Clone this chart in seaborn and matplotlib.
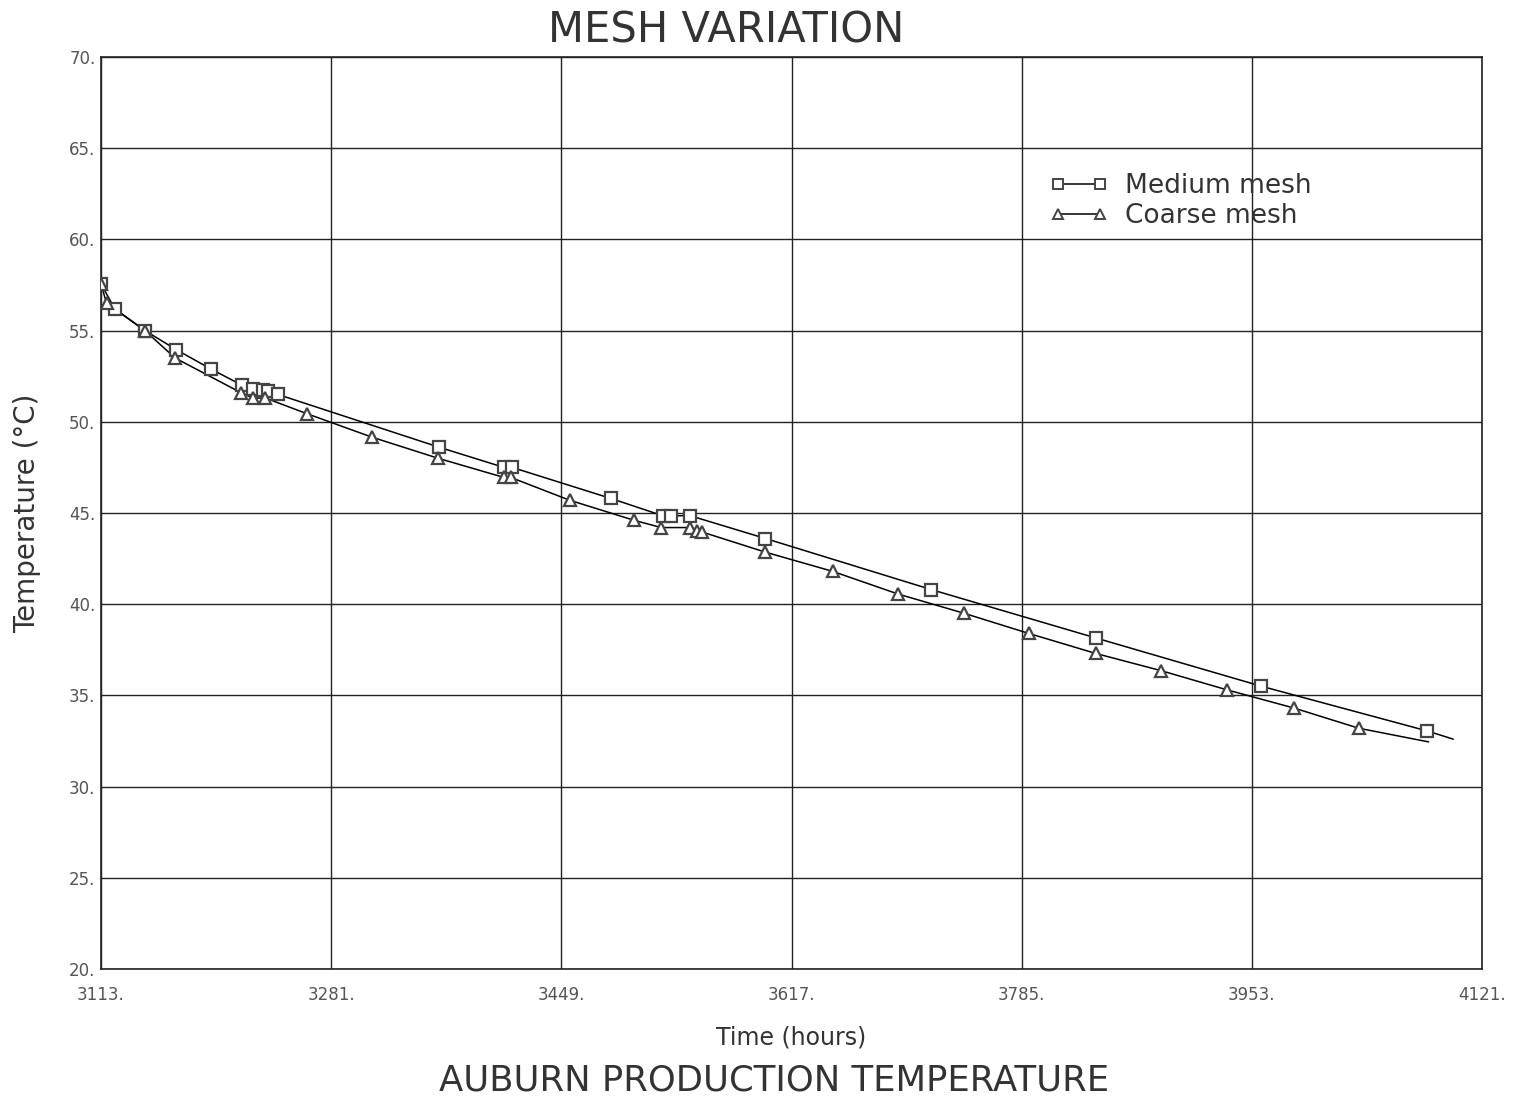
import matplotlib
matplotlib.use("Agg")
import matplotlib.pyplot as plt
from matplotlib.lines import Line2D
import seaborn as sns
import pandas as pd

# ---- data ----
medium_x = [3113, 3123, 3145, 3168, 3193, 3216, 3224, 3231, 3235, 3242, 3360, 3407, 3413,
            3485, 3523, 3529, 3543, 3598, 3719, 3839, 3960, 4081]
medium_y = [57.55, 56.2, 55.0, 53.95, 52.9, 52.0, 51.8, 51.75, 51.7, 51.5, 48.6, 47.5, 47.5,
            45.8, 44.85, 44.85, 44.85, 43.6, 40.8, 38.15, 35.5, 33.05]
medium_tail_x = [4100]
medium_tail_y = [32.6]

coarse_x = [3113, 3117, 3145, 3167, 3215, 3224, 3233, 3263, 3311, 3359, 3407, 3412, 3455,
            3502, 3522, 3543, 3548, 3552, 3598, 3647, 3695, 3743, 3790, 3839, 3887, 3935,
            3984, 4031]
coarse_y = [57.55, 56.5, 55.0, 53.5, 51.6, 51.3, 51.3, 50.45, 49.15, 48.0, 46.95, 46.95, 45.7,
            44.6, 44.2, 44.2, 44.0, 43.95, 42.85, 41.8, 40.55, 39.5, 38.4, 37.3, 36.35, 35.3,
            34.3, 33.2]
coarse_tail_x = [4082]
coarse_tail_y = [32.45]

series_names = ["Medium mesh", "Coarse mesh"]
x_ticks = [3113, 3281, 3449, 3617, 3785, 3953, 4121]
y_ticks = [20, 25, 30, 35, 40, 45, 50, 55, 60, 65, 70]

# ---- build tables ----
pts = pd.DataFrame({
    "time": medium_x + coarse_x,
    "temp": medium_y + coarse_y,
    "mesh": [series_names[0]] * len(medium_x) + [series_names[1]] * len(coarse_x),
})
lines = pd.DataFrame({
    "time": medium_x + medium_tail_x + coarse_x + coarse_tail_x,
    "temp": medium_y + medium_tail_y + coarse_y + coarse_tail_y,
    "mesh": [series_names[0]] * (len(medium_x) + 1) + [series_names[1]] * (len(coarse_x) + 1),
})

sns.set_theme(style="white")
plt.rcParams["font.family"] = ["DejaVu Sans"]

fig = plt.figure(figsize=(15.31, 11.04), dpi=100)
ax = fig.add_axes([0.066, 0.1223, 0.902, 0.8261])

palette = {series_names[0]: "black", series_names[1]: "black"}
sns.lineplot(data=lines, x="time", y="temp", hue="mesh", palette=palette,
             estimator=None, sort=False, linewidth=1.1, legend=False, ax=ax)

markers = {series_names[0]: "s", series_names[1]: "^"}
for name in series_names:
    sub = pts[pts["mesh"] == name]
    ax.plot(sub["time"], sub["temp"], linestyle="none", marker=markers[name],
            markersize=8.5, markerfacecolor="white", markeredgecolor="#444444",
            markeredgewidth=1.6, zorder=3)

ax.set_xlim(3113, 4121)
ax.set_ylim(20, 70)
ax.set_xticks(x_ticks)
ax.set_xticklabels([f"{t}." for t in x_ticks])
ax.set_yticks(y_ticks)
ax.set_yticklabels([f"{t}." for t in y_ticks])
ax.grid(True, color="#222222", linewidth=1.0)
for s in ax.spines.values():
    s.set_color("#222222")
    s.set_linewidth(1.2)
ax.tick_params(axis="both", length=0, labelsize=12, labelcolor="#555555")
ax.tick_params(axis="x", pad=12)
ax.tick_params(axis="y", pad=4)

ax.set_xlabel("Time (hours)", fontsize=17, color="#333333", labelpad=16)
ax.set_ylabel("Temperature (°C)", fontsize=20, color="#333333", labelpad=20)

fig.text(0.474, 0.972, "MESH VARIATION", ha="center", va="center", fontsize=30,
         color="#333333")
fig.text(0.5056, 0.021, "AUBURN PRODUCTION TEMPERATURE", ha="center", va="center",
         fontsize=25.5, color="#333333")

handles = [
    Line2D([0], [0], color="black", linewidth=1.1, marker="s", markersize=7,
           markerfacecolor="white", markeredgecolor="#444444", markeredgewidth=1.4),
    Line2D([0], [0], color="black", linewidth=1.1, marker="^", markersize=7,
           markerfacecolor="white", markeredgecolor="#444444", markeredgewidth=1.4),
]
leg = ax.legend(handles, series_names, loc="upper left", bbox_to_anchor=(0.670, 0.899),
                frameon=False, numpoints=2, fontsize=19, handlelength=2.2,
                handletextpad=0.65, labelspacing=0.15)
for t in leg.get_texts():
    t.set_color("#333333")

fig.savefig("out.png", dpi=100)
